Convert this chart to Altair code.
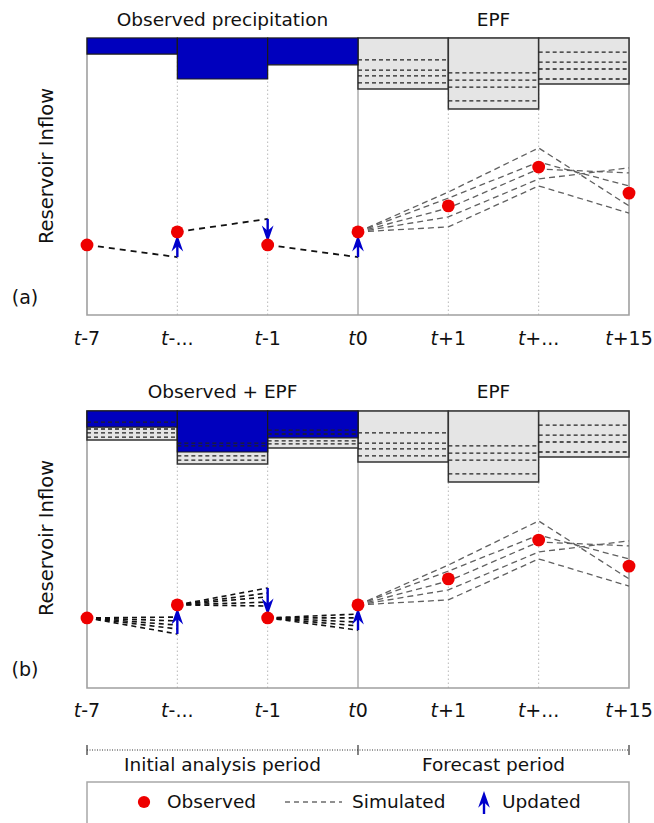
import altair as alt
import pandas as pd

# ---------------- data ----------------
tick_suffix = ["-7", "-...", "-1", "0", "+1", "+...", "+15"]
observed = [25.3, 30.0, 25.3, 30.0, 39.4, 53.4, 44.0]          # inflow at t-7 .. t+15
sim_past_a = [20.9, 34.7, 20.9]                                 # one-step simulations, panel (a)
sim_past_b = [[25.6, 24.2, 22.7, 21.3, 19.5],                   # ensemble one-step simulations, panel (b)
              [36.1, 34.3, 32.9, 31.0, 29.6],
              [26.7, 25.3, 23.8, 22.4, 20.9]]
forecast_members = [[44.4, 60.3, 39.4],                         # t+1, t+..., t+15
                    [42.2, 55.2, 46.6],
                    [38.6, 52.7, 51.3],
                    [35.4, 49.1, 53.1],
                    [31.8, 46.6, 36.8]]
obs_precip = [5.8, 14.8, 9.7]
epf_hind_max = [10.5, 19.1, 13.4]
epf_hind_members = [[4.0, 6.5, 7.9, 9.4],
                    [11.6, 12.6, 16.2, 17.7],
                    [6.9, 8.3, 10.8, 11.9]]
epf_fore_max = [18.4, 25.6, 16.6]
epf_fore_members = [[7.9, 11.6, 13.7, 16.2],
                    [12.6, 15.2, 17.7, 22.7],
                    [5.1, 8.7, 11.2, 14.8]]
arrow_cols = [1, 2, 3]
arrow_from_a = [20.9, 34.7, 20.9]
arrow_from_b = [19.5, 36.1, 20.9]

# ---------------- layout ----------------
W, H = 542, 650
LEFT, TOP = 87, 38
U = 2.77                       # px per inflow unit
YMAX = H / U
PXC = W / 6
OFF = {"a": (688 - 315) / U, "b": 0.0}
FONT = "DejaVu Sans"
BLUE = "#0000BE"
ARROW = "#0000CC"
RED = "#EE0000"
HEAD = 280


def ypx(p):
    return (TOP + H - p) / U


def xpx(p):
    return (p - LEFT) / PXC


xs = alt.Scale(domain=[0, 6], nice=False, zero=False)
ys = alt.Scale(domain=[0, YMAX], nice=False, zero=False)


def X(f="x"):
    return alt.X(f"{f}:Q", scale=xs, axis=None)


def Y(f="y"):
    return alt.Y(f"{f}:Q", scale=ys, axis=None)


layers = []

# grid lines
grid = []
for p in "ab":
    for c in range(1, 6):
        grid.append({"x": c, "y": OFF[p], "y2": OFF[p] + 100, "solid": c == 3})
grid = pd.DataFrame(grid)
layers.append(alt.Chart(grid[~grid.solid]).mark_rule(color="#b8b8b8", strokeWidth=1, strokeDash=[1.5, 2.5])
              .encode(x=X(), y=Y(), y2="y2:Q"))
layers.append(alt.Chart(grid[grid.solid]).mark_rule(color="#999999", strokeWidth=1.2)
              .encode(x=X(), y=Y(), y2="y2:Q"))

# frames
frames = pd.DataFrame([{"x": 0, "x2": 6, "y": OFF[p], "y2": OFF[p] + 100} for p in "ab"])
layers.append(alt.Chart(frames).mark_rect(fill=None, stroke="#a0a0a0", strokeWidth=1.6)
              .encode(x=X(), x2="x2:Q", y=Y(), y2="y2:Q"))

# grey EPF boxes
boxes = []
for i, d in enumerate(epf_fore_max):
    for p in "ab":
        boxes.append({"x": 3 + i, "x2": 4 + i, "y": OFF[p] + 100 - d, "y2": OFF[p] + 100})
for i, d in enumerate(epf_hind_max):
    boxes.append({"x": i, "x2": i + 1, "y": OFF["b"] + 100 - d, "y2": OFF["b"] + 100})
layers.append(alt.Chart(pd.DataFrame(boxes)).mark_rect(fill="#e5e5e5", stroke="#333333", strokeWidth=1.5)
              .encode(x=X(), x2="x2:Q", y=Y(), y2="y2:Q"))

# blue observed precipitation bars
bars = []
for i, d in enumerate(obs_precip):
    for p in "ab":
        bars.append({"x": i, "x2": i + 1, "y": OFF[p] + 100 - d, "y2": OFF[p] + 100})
layers.append(alt.Chart(pd.DataFrame(bars)).mark_rect(fill=BLUE, stroke="#1a1a1a", strokeWidth=1.2)
              .encode(x=X(), x2="x2:Q", y=Y(), y2="y2:Q"))

# ensemble member dashes inside the boxes
dashes = []
for i, mem in enumerate(epf_fore_members):
    for p in "ab":
        for d in mem:
            dashes.append({"x": 3 + i, "x2": 4 + i, "y": OFF[p] + 100 - d})
for i, mem in enumerate(epf_hind_members):
    for d in mem:
        dashes.append({"x": i, "x2": i + 1, "y": OFF["b"] + 100 - d})
layers.append(alt.Chart(pd.DataFrame(dashes)).mark_rule(color="#222222", strokeWidth=1.3, strokeDash=[4, 3])
              .encode(x=X(), x2="x2:Q", y=Y()))

# simulated lines, past (a)
pa = []
for k, v in enumerate(sim_past_a):
    pa += [{"sid": f"a{k}", "x": k, "y": OFF["a"] + observed[k]},
           {"sid": f"a{k}", "x": k + 1, "y": OFF["a"] + v}]
layers.append(alt.Chart(pd.DataFrame(pa)).mark_line(color="#111111", strokeWidth=1.8, strokeDash=[6, 5])
              .encode(x=X(), y=Y(), detail="sid:N"))

# simulated lines, past (b)
pb = []
for k, seg in enumerate(sim_past_b):
    for m, v in enumerate(seg):
        pb += [{"sid": f"b{k}{m}", "x": k, "y": OFF["b"] + observed[k]},
               {"sid": f"b{k}{m}", "x": k + 1, "y": OFF["b"] + v}]
layers.append(alt.Chart(pd.DataFrame(pb)).mark_line(color="#111111", strokeWidth=1.6, strokeDash=[5, 4])
              .encode(x=X(), y=Y(), detail="sid:N"))

# forecast members
fc = []
for p in "ab":
    for m, mem in enumerate(forecast_members):
        sid = f"f{p}{m}"
        fc.append({"sid": sid, "x": 3, "y": OFF[p] + observed[3]})
        for j, v in enumerate(mem):
            fc.append({"sid": sid, "x": 4 + j, "y": OFF[p] + v})
layers.append(alt.Chart(pd.DataFrame(fc)).mark_line(color="#606060", strokeWidth=1.3, strokeDash=[6, 4])
              .encode(x=X(), y=Y(), detail="sid:N"))

# updated arrows
up_path = "M0,0 L0.7,2 L0,1.35 L-0.7,2 Z"
down_path = "M0,0 L0.7,-2 L0,-1.35 L-0.7,-2 Z"
arr = []
for p, froms in (("a", arrow_from_a), ("b", arrow_from_b)):
    for c, f in zip(arrow_cols, froms):
        o = observed[c]
        up = f < o
        tip = o - 1.0 if up else o + 1.0
        end = tip - 2.0 if up else tip + 2.0
        arr.append({"x": c, "y": OFF[p] + f, "y2": OFF[p] + end, "tip": OFF[p] + tip, "up": up})
arr = pd.DataFrame(arr)
layers.append(alt.Chart(arr).mark_rule(color=ARROW, strokeWidth=2.4)
              .encode(x=X(), y=Y(), y2="y2:Q"))
layers.append(alt.Chart(arr[arr.up]).mark_point(shape=up_path, filled=True, size=HEAD, color=ARROW, opacity=1)
              .encode(x=X(), y=Y("tip")))
layers.append(alt.Chart(arr[~arr.up]).mark_point(shape=down_path, filled=True, size=HEAD, color=ARROW, opacity=1)
              .encode(x=X(), y=Y("tip")))

# observed dots
dots = pd.DataFrame([{"x": i, "y": OFF[p] + v} for p in "ab" for i, v in enumerate(observed)])
layers.append(alt.Chart(dots).mark_circle(color=RED, size=165, opacity=1)
              .encode(x=X(), y=Y()))

# tick labels: italic "t" + upright suffix, centered on the tick
cw = {"-": 0.361, ".": 0.318, "+": 0.838, "t": 0.392}
FS = 19
wt = cw["t"] * FS
ticks = []
for p, base in (("a", 345), ("b", 717)):
    for i, s in enumerate(tick_suffix):
        ws = sum(cw.get(ch, 0.636) for ch in s) * FS
        ticks.append({"x": i + (wt - ws) / 2 / PXC, "y": ypx(base), "suf": s, "t": "t"})
ticks = pd.DataFrame(ticks)
layers.append(alt.Chart(ticks).mark_text(font=FONT, fontSize=FS, fontStyle="italic", align="right",
                                         baseline="alphabetic", color="#111111")
              .encode(x=X(), y=Y(), text="t:N"))
layers.append(alt.Chart(ticks).mark_text(font=FONT, fontSize=FS, align="left",
                                         baseline="alphabetic", color="#111111")
              .encode(x=X(), y=Y(), text="suf:N"))

# panel titles and period labels
titles = pd.DataFrame([
    {"x": 1.5, "y": ypx(26), "txt": "Observed precipitation"},
    {"x": 4.5, "y": ypx(26), "txt": "EPF"},
    {"x": 1.5, "y": ypx(398), "txt": "Observed + EPF"},
    {"x": 4.5, "y": ypx(398), "txt": "EPF"},
    {"x": 1.5, "y": ypx(771), "txt": "Initial analysis period"},
    {"x": 4.5, "y": ypx(771), "txt": "Forecast period"},
])
layers.append(alt.Chart(titles).mark_text(font=FONT, fontSize=18.5, align="center", baseline="alphabetic",
                                          color="#111111")
              .encode(x=X(), y=Y(), text="txt:N"))

# y-axis titles and panel letters
ylab = pd.DataFrame([{"x": xpx(47), "y": ypx(166), "txt": "Reservoir Inflow"},
                     {"x": xpx(47), "y": ypx(538), "txt": "Reservoir Inflow"}])
layers.append(alt.Chart(ylab).mark_text(font=FONT, fontSize=19.5, angle=270, align="center", baseline="middle",
                                        color="#111111")
              .encode(x=X(), y=Y(), text="txt:N"))
letters = pd.DataFrame([{"x": xpx(25), "y": ypx(298), "txt": "(a)"},
                        {"x": xpx(25), "y": ypx(670), "txt": "(b)"}])
layers.append(alt.Chart(letters).mark_text(font=FONT, fontSize=19, align="center", baseline="middle",
                                           color="#111111")
              .encode(x=X(), y=Y(), text="txt:N"))

# period bracket
layers.append(alt.Chart(pd.DataFrame([{"x": 0, "x2": 6, "y": ypx(750)}]))
              .mark_rule(color="#333333", strokeWidth=1, strokeDash=[1, 1.5])
              .encode(x=X(), x2="x2:Q", y=Y()))
layers.append(alt.Chart(pd.DataFrame([{"x": c, "y": ypx(745), "y2": ypx(755)} for c in (0, 3, 6)]))
              .mark_rule(color="#333333", strokeWidth=1.2)
              .encode(x=X(), y=Y(), y2="y2:Q"))

# legend box
layers.append(alt.Chart(pd.DataFrame([{"x": 0, "x2": 6, "y": ypx(782), "y2": ypx(845)}]))
              .mark_rect(fill=None, stroke="#a8a8a8", strokeWidth=1.5)
              .encode(x=X(), x2="x2:Q", y=Y(), y2="y2:Q"))
layers.append(alt.Chart(pd.DataFrame([{"x": xpx(144), "y": ypx(802)}]))
              .mark_circle(color=RED, size=150, opacity=1).encode(x=X(), y=Y()))
layers.append(alt.Chart(pd.DataFrame([{"x": xpx(285), "x2": xpx(342), "y": ypx(802)}]))
              .mark_rule(color="#222222", strokeWidth=1.2, strokeDash=[5, 4])
              .encode(x=X(), x2="x2:Q", y=Y()))
layers.append(alt.Chart(pd.DataFrame([{"x": xpx(484), "y": ypx(814), "y2": ypx(798)}]))
              .mark_rule(color=ARROW, strokeWidth=2.4).encode(x=X(), y=Y(), y2="y2:Q"))
layers.append(alt.Chart(pd.DataFrame([{"x": xpx(484), "y": ypx(791)}]))
              .mark_point(shape=up_path, filled=True, size=HEAD, color=ARROW, opacity=1)
              .encode(x=X(), y=Y()))
leg_txt = pd.DataFrame([{"x": xpx(167), "y": ypx(808), "txt": "Observed"},
                        {"x": xpx(352), "y": ypx(808), "txt": "Simulated"},
                        {"x": xpx(502), "y": ypx(808), "txt": "Updated"}])
layers.append(alt.Chart(leg_txt).mark_text(font=FONT, fontSize=18.5, align="left", baseline="alphabetic",
                                           color="#111111")
              .encode(x=X(), y=Y(), text="txt:N"))

chart = alt.layer(*layers).properties(
    width=W, height=H,
    padding={"left": LEFT, "top": TOP, "right": 654 - LEFT - W, "bottom": 823 - TOP - H},
    autosize=alt.AutoSizeParams(type="none"),
    background="white",
).configure_view(stroke=None)

chart.save("out.html", embed_options={"renderer": "svg", "actions": False})
